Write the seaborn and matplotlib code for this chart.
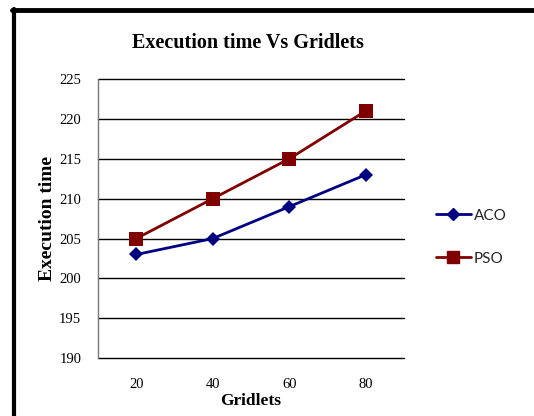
import pandas as pd
import matplotlib.pyplot as plt
import seaborn as sns
from matplotlib.lines import Line2D

# values
gridlets = ['20', '40', '60', '80']
aco_time = [203, 205, 209, 213]
pso_time = [205, 210, 215, 221]
y_ticks = [190, 195, 200, 205, 210, 215, 220, 225]

df = pd.DataFrame({
    'Gridlets': gridlets * 2,
    'Execution time': aco_time + pso_time,
    'Algorithm': ['ACO'] * len(gridlets) + ['PSO'] * len(gridlets),
})

sns.set_theme(style='white')
plt.rcParams['font.family'] = ['Liberation Serif', 'DejaVu Serif']

fig = plt.figure(figsize=(5.34, 4.16), dpi=100)
ax = fig.add_axes([0.1835, 0.139, 0.573, 0.671])

palette = {'ACO': '#000080', 'PSO': '#800000'}
markers = {'ACO': 'D', 'PSO': 's'}
sns.lineplot(
    data=df, x='Gridlets', y='Execution time', hue='Algorithm',
    style='Algorithm', markers=markers, dashes=False, palette=palette,
    linewidth=2.0, markersize=7, markeredgewidth=0, ax=ax, legend=False,
)
# squares are a bit larger than the diamonds
for line in ax.get_lines():
    if line.get_marker() == 's':
        line.set_markersize(10)
    else:
        line.set_markersize(7)

ax.set_xlim(-0.5, 3.5)
ax.set_ylim(190, 225)
ax.set_yticks(y_ticks)
ax.yaxis.grid(True, color='black', linewidth=1.0)
for gl in ax.get_ygridlines():
    gl.set_clip_on(False)
ax.set_axisbelow(True)
for side in ['top', 'right', 'bottom']:
    ax.spines[side].set_visible(False)
ax.spines['left'].set_color('#777777')
ax.spines['left'].set_linewidth(1.0)
ax.tick_params(axis='both', length=0, labelsize=10.5, colors='black')
ax.tick_params(axis='x', pad=14)
ax.tick_params(axis='y', pad=12)

ax.set_xlabel('Gridlets', fontsize=12.5, fontweight='bold', color='black', labelpad=2)
ax.set_ylabel('Execution time', fontsize=14, fontweight='bold', color='black', labelpad=2)
fig.text(0.465, 0.897, 'Execution time Vs Gridlets', ha='center', va='center',
         fontsize=14.5, fontweight='bold', color='black')

handles = [
    Line2D([], [], color=palette['ACO'], marker='D', markersize=6.5, linewidth=2.0),
    Line2D([], [], color=palette['PSO'], marker='s', markersize=8, linewidth=2.0),
]
leg = ax.legend(handles, ['ACO', 'PSO'], loc='center left',
                bbox_to_anchor=(0.79, 0.43), bbox_transform=fig.transFigure,
                frameon=False, handlelength=2.3, handletextpad=0.2,
                labelspacing=1.9, prop={'family': 'Lato', 'size': 11})

# page border: thick black line on the left and top
fig.add_artist(Line2D([0.026, 0.026], [0.0, 0.978], color='black', linewidth=3,
                      transform=fig.transFigure))
fig.add_artist(Line2D([0.023, 1.0], [0.976, 0.976], color='black', linewidth=3.5,
                      transform=fig.transFigure))

fig.savefig('out.png', dpi=100)
